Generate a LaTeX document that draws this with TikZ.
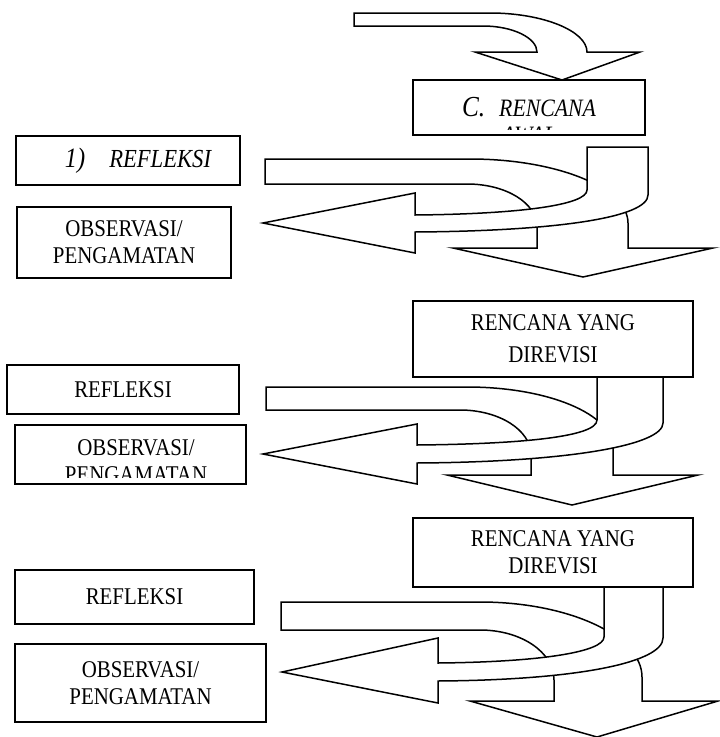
\documentclass[tikz,border=0pt]{standalone}
\usepackage{fontspec}
\setmainfont[FakeStretch=0.87]{Liberation Serif}
\usepackage{tikz}

\tikzset{
  kotak/.style={draw, line width=1.5pt, fill=white, inner sep=0pt, align=center,
    font=\fontsize{24}{27}\selectfont},
  panah/.style={draw, line width=1.5pt, fill=white, line join=miter},
  teks/.style={inner sep=0pt, align=center, font=\fontsize{24}{27}\selectfont}
}

\begin{document}
\begin{tikzpicture}[x=1pt,y=-1pt]
	\useasboundingbox (0,0) rectangle (720,737);
	% rencana awal
	\path[panah] (354,13) -- (490,13) .. controls (543,13) and (587,31) .. (587,52) -- (640,52) -- (562,80) -- (475,52) -- (537,52) .. controls (537,38) and (513,26) .. (483,26) -- (354,26) -- cycle;
	\node[kotak, minimum width=232pt, minimum height=55pt] (rencana0) at (529,107.5) {};
	\begin{scope}
		\clip (414,81) rectangle (644,129);
		\node[teks, font=\itshape\fontsize{25}{27}\selectfont] (judul0) at (529,121) {{\fontsize{29}{27}\selectfont C.}\hspace{14pt}RENCANA\\AWAL};
	\end{scope}
	% siklus 1
	\path[panah] (265,159) -- (470,159) .. controls (557,159) and (628,188) .. (628,223) -- (628,248) -- (713,248) -- (583,277) -- (453,248) -- (537,248) -- (537,227) .. controls (537,203) and (506,184) .. (467,184) -- (265,184) -- cycle;
	\path[panah] (587,147) -- (648,147) -- (648,195) .. controls (648,217) and (560,231) .. (415,232) -- (415,253) -- (263,223) -- (415,193) -- (415,215) .. controls (520,214) and (587,205) .. (587,190) -- cycle;
	\node[kotak, minimum width=224pt, minimum height=49pt] (refleksi1) at (128,160.5) {\hspace{20pt}\raisebox{-6pt}{\itshape{\fontsize{28}{27}\selectfont 1)}\hspace{24pt}{\fontsize{26}{27}\selectfont REFLEKSI}}};
	\node[kotak, minimum width=214pt, minimum height=71pt] (observasi1) at (124,242.5) {OBSERVASI/\\PENGAMATAN};
	% siklus 2
	\path[panah] (266,387) -- (467,387) .. controls (548,387) and (613,414) .. (613,448) -- (613,475) -- (698,475) -- (572,505) -- (447,475) -- (531,475) -- (531,455) .. controls (531,430) and (499,410) .. (460,410) -- (266,410) -- cycle;
	\path[panah] (597,370) -- (663,370) -- (663,423) .. controls (663,445) and (570,462) .. (417,463) -- (417,484) -- (263,454) -- (417,424) -- (417,445) .. controls (520,444) and (597,437) .. (597,420) -- cycle;
	\node[kotak, minimum width=280pt, minimum height=76pt, font=\fontsize{24}{32}\selectfont] (rencana2) at (553,339) {RENCANA YANG\\DIREVISI};
	\node[kotak, minimum width=232pt, minimum height=49pt] (refleksi2) at (123,389.5) {REFLEKSI};
	\node[kotak, minimum width=231pt, minimum height=59pt] (observasi2) at (130.5,454.5) {};
	\begin{scope}
		\clip (16,426) rectangle (245,477);
		\node[teks] (teksobs2) at (136,461.5) {OBSERVASI/\\PENGAMATAN};
	\end{scope}
	% siklus 3
	\path[panah] (281,602) -- (480,602) .. controls (569,602) and (642,636) .. (642,677) -- (642,701) -- (718,701) -- (597,737) -- (470,701) -- (554,701) -- (554,680) .. controls (554,652) and (521,630) .. (480,630) -- (281,630) -- cycle;
	\path[panah] (604,580) -- (663,580) -- (663,638) .. controls (663,662) and (580,680) .. (438,681) -- (438,703) -- (282,672) -- (438,638) -- (438,663) .. controls (540,662) and (604,652) .. (604,637) -- cycle;
	\node[kotak, minimum width=280pt, minimum height=69pt] (rencana3) at (553,552.5) {RENCANA YANG\\DIREVISI};
	\node[kotak, minimum width=239pt, minimum height=54pt] (refleksi3) at (134.5,597) {REFLEKSI};
	\node[kotak, minimum width=251pt, minimum height=78pt] (observasi3) at (140.5,683) {OBSERVASI/\\PENGAMATAN};
\end{tikzpicture}
\end{document}
